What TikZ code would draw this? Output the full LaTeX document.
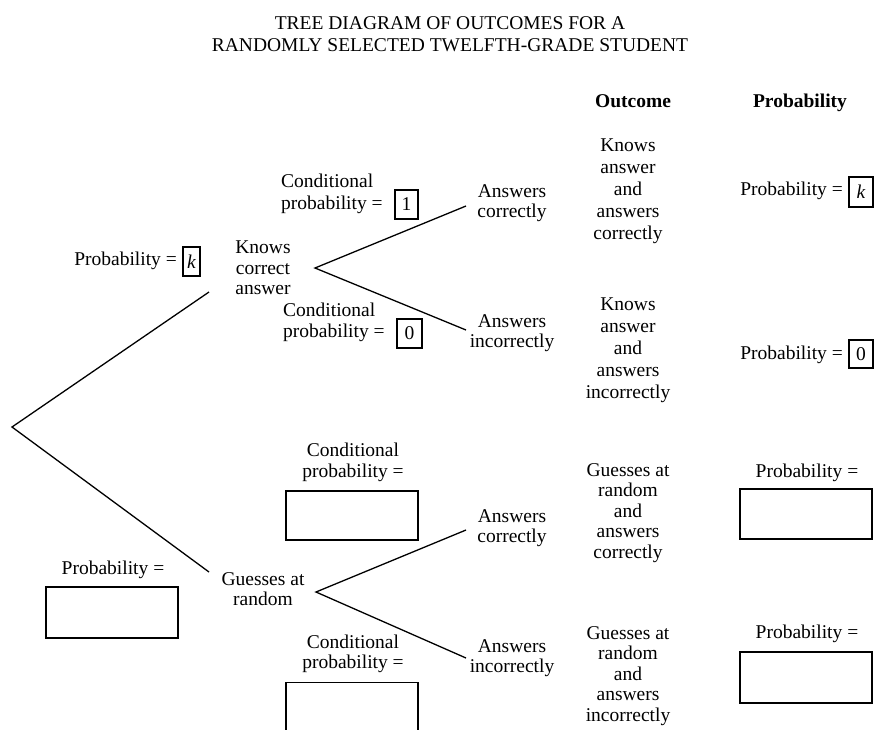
\documentclass[tikz,border=0pt]{standalone}
\usepackage{fontspec}
\setmainfont{Liberation Serif}
\begin{document}
\begin{tikzpicture}[x=1pt,y=-1pt,
  txt/.style={font=\fontsize{19.5}{20.5}\selectfont, inner sep=0pt, align=center},
  wide/.style={font=\fontsize{19.5}{22}\selectfont, inner sep=0pt, align=center},
  head/.style={font=\fontsize{19.5}{20.5}\selectfont\bfseries, inner sep=0pt, anchor=base},
  valbox/.style={draw, line width=1.2pt, inner sep=0pt, font=\fontsize{19.5}{20.5}\selectfont},
  branch/.style={line width=1.3pt}]
\useasboundingbox (0,0) rectangle (875,729);
\clip (0,0) rectangle (875,729);

% title and headers
\node[wide] (title) at (450,34) {TREE DIAGRAM OF OUTCOMES FOR A\\RANDOMLY SELECTED TWELFTH-GRADE STUDENT};
\node[head] (hOut) at (633,107.5) {Outcome};
\node[head] (hProb) at (800,107.5) {Probability};

% branch points
\coordinate (root) at (12,427);
\coordinate (kIn) at (209,292);
\coordinate (gIn) at (209,572);
\coordinate (kOut) at (315,268);
\coordinate (gOut) at (316,592);
\coordinate (a1) at (466,206);
\coordinate (a2) at (466,330);
\coordinate (a3) at (466,530);
\coordinate (a4) at (466,658);

\draw[branch] (kIn) -- (root) -- (gIn);
\draw[branch] (a1) -- (kOut) -- (a2);
\draw[branch] (a3) -- (gOut) -- (a4);

% first-stage labels
\node[txt] (knows) at (263,268) {Knows\\correct\\answer};
\node[txt] (guess) at (263,589) {Guesses at\\random};

% second-stage labels
\node[txt] (ac1) at (512,203) {Answers\\correctly};
\node[txt] (ai1) at (512,333) {Answers\\incorrectly};
\node[txt] (ac2) at (512,528) {Answers\\correctly};
\node[txt] (ai2) at (512,658) {Answers\\incorrectly};

% upper probabilities
\node[txt, anchor=east] (pk) at (177,261) {Probability =};
\node[valbox, minimum width=17pt, minimum height=29pt] (bk) at (191.5,261.5) {\textit{k}};
\node[wide, align=left, anchor=west] (c1) at (281,194) {Conditional\\probability =};
\node[valbox, minimum width=23pt, minimum height=29pt] (b1) at (406.5,204.5) {1};
\node[txt, align=left, anchor=west] (c0) at (283,322.5) {Conditional\\probability =};
\node[valbox, minimum width=25pt, minimum height=29pt] (b0) at (409.5,333.5) {0};

% lower probabilities
\node[txt] (pg) at (113,570) {Probability =};
\node[valbox, minimum width=132pt, minimum height=51pt] (bg) at (112,612.5) {};
\node[txt] (cg1) at (353,462.5) {Conditional\\probability =};
\node[valbox, minimum width=132pt, minimum height=49pt] (bg1) at (352,515.5) {};
\node[txt] (cg2) at (353,654) {Conditional\\probability =};
\node[valbox, minimum width=132pt, minimum height=80pt, anchor=north] (bg2) at (352,682) {};

% outcome column
\node[wide] (o1) at (628,191) {Knows\\answer\\and\\answers\\correctly};
\node[wide] (o2) at (628,350) {Knows\\answer\\and\\answers\\incorrectly};
\node[txt] (o3) at (628,513) {Guesses at\\random\\and\\answers\\correctly};
\node[txt] (o4) at (628,676) {Guesses at\\random\\and\\answers\\incorrectly};

% probability column
\node[txt, anchor=east] (pR1) at (843,191) {Probability =};
\node[valbox, minimum width=24pt, minimum height=30pt] (bR1) at (861,192) {\textit{k}};
\node[txt, anchor=east] (pR2) at (843,355) {Probability =};
\node[valbox, minimum width=24pt, minimum height=28pt] (bR2) at (861,354) {0};
\node[txt] (pR3) at (807,473) {Probability =};
\node[valbox, minimum width=132pt, minimum height=50pt] (bR3) at (806,514) {};
\node[txt] (pR4) at (807,634) {Probability =};
\node[valbox, minimum width=132pt, minimum height=51pt] (bR4) at (806,677.5) {};
\end{tikzpicture}
\end{document}
